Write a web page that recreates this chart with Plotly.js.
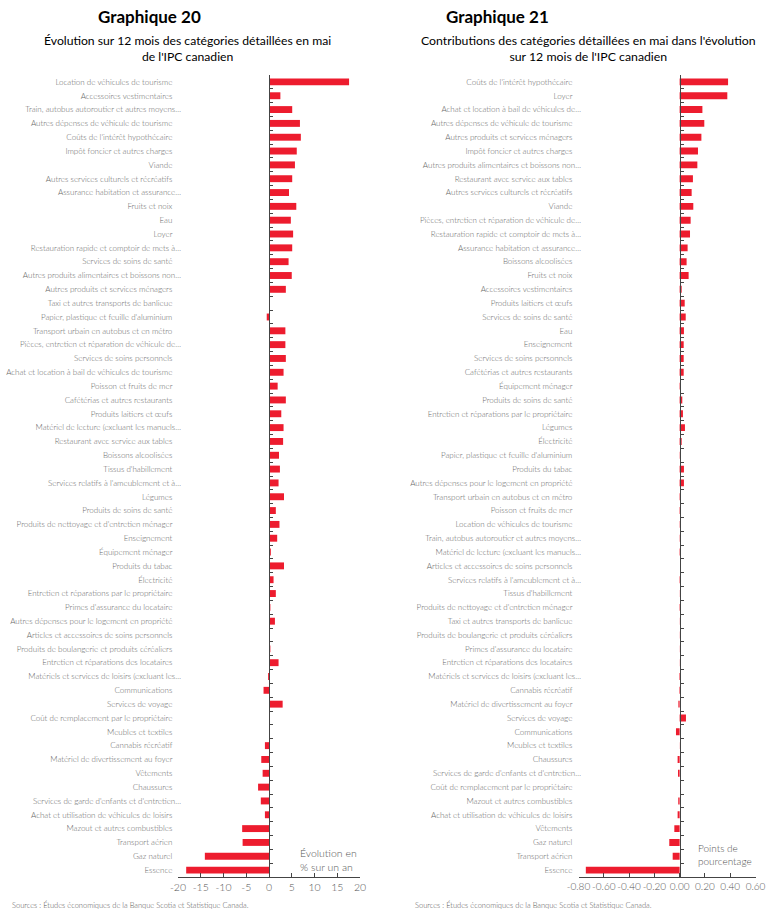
<!DOCTYPE html>
<html>
<head>
<meta charset="utf-8">
<script src="https://cdn.plot.ly/plotly-3.0.1.min.js"></script>
<style>
  html, body { margin: 0; padding: 0; background: #fff; }
  #chart { width: 774px; height: 923px; }
</style>
</head>
<body>
<div id="chart"></div>
<script>
// --- Graphique 20 : évolution sur 12 mois (%)
const cats20 = [
  "Location de véhicules de tourisme", "Accessoires vestimentaires",
  "Train, autobus autoroutier et autres moyens…", "Autres dépenses de véhicule de tourisme",
  "Coûts de l'intérêt hypothécaire", "Impôt foncier et autres charges", "Viande",
  "Autres services culturels et récréatifs", "Assurance habitation et assurance…",
  "Fruits et noix", "Eau", "Loyer", "Restauration rapide et comptoir de mets à…",
  "Services de soins de santé", "Autres produits alimentaires et boissons non…",
  "Autres produits et services ménagers", "Taxi et autres transports de banlieue",
  "Papier, plastique et feuille d'aluminium", "Transport urbain en autobus et en métro",
  "Pièces, entretien et réparation de véhicule de…", "Services de soins personnels",
  "Achat et location à bail de véhicules de tourisme", "Poisson et fruits de mer",
  "Cafétérias et autres restaurants", "Produits laitiers et œufs",
  "Matériel de lecture (excluant les manuels…", "Restaurant avec service aux tables",
  "Boissons alcoolisées", "Tissus d'habillement", "Services relatifs à l'ameublement et à…",
  "Légumes", "Produits de soins de santé", "Produits de nettoyage et d'entretien ménager",
  "Enseignement", "Équipement ménager", "Produits du tabac", "Électricité",
  "Entretien et réparations par le propriétaire", "Primes d'assurance du locataire",
  "Autres dépenses pour le logement en propriété", "Articles et accessoires de soins personnels",
  "Produits de boulangerie et produits céréaliers", "Entretien et réparations des locataires",
  "Matériels et services de loisirs (excluant les…", "Communications", "Services de voyage",
  "Coût de remplacement par le propriétaire", "Meubles et textiles", "Cannabis récréatif",
  "Matériel de divertissement au foyer", "Vêtements", "Chaussures",
  "Services de garde d'enfants et d'entretien…", "Achat et utilisation de véhicules de loisirs",
  "Mazout et autres combustibles", "Transport aérien", "Gaz naturel", "Essence"
];
const vals20 = [
  17.6, 2.5, 5.1, 6.8, 7.0, 6.1, 5.7, 5.1, 4.4, 6.0, 4.8, 5.3, 5.1, 4.3, 5.0, 3.7, 0.2, -0.5,
  3.6, 3.6, 3.7, 3.2, 1.9, 3.7, 2.7, 3.2, 3.1, 2.2, 2.4, 2.1, 3.3, 1.5, 2.3, 1.8, 0.4, 3.3,
  1.0, 1.5, 0.3, 1.3, 0.0, 0.3, 2.1, -0.2, -1.2, 3.0, 0.1, 0.0, -0.9, -1.7, -1.4, -2.4,
  -1.8, -0.9, -5.9, -5.8, -14.1, -18.2
];
const ticks20 = [-20, -15, -10, -5, 0, 5, 10, 15, 20];
const tickText20 = ["-20", "-15", "-10", "-5", "0", "5", "10", "15", "20"];

// --- Graphique 21 : contributions (points de pourcentage)
const cats21 = [
  "Coûts de l'intérêt hypothécaire", "Loyer", "Achat et location à bail de véhicules de…",
  "Autres dépenses de véhicule de tourisme", "Autres produits et services ménagers",
  "Impôt foncier et autres charges", "Autres produits alimentaires et boissons non…",
  "Restaurant avec service aux tables", "Autres services culturels et récréatifs", "Viande",
  "Pièces, entretien et réparation de véhicule de…", "Restauration rapide et comptoir de mets à…",
  "Assurance habitation et assurance…", "Boissons alcoolisées", "Fruits et noix",
  "Accessoires vestimentaires", "Produits laitiers et œufs", "Services de soins de santé",
  "Eau", "Enseignement", "Services de soins personnels", "Cafétérias et autres restaurants",
  "Équipement ménager", "Produits de soins de santé", "Entretien et réparations par le propriétaire",
  "Légumes", "Électricité", "Papier, plastique et feuille d'aluminium", "Produits du tabac",
  "Autres dépenses pour le logement en propriété", "Transport urbain en autobus et en métro",
  "Poisson et fruits de mer", "Location de véhicules de tourisme",
  "Train, autobus autoroutier et autres moyens…", "Matériel de lecture (excluant les manuels…",
  "Articles et accessoires de soins personnels", "Services relatifs à l'ameublement et à…",
  "Tissus d'habillement", "Produits de nettoyage et d'entretien ménager",
  "Taxi et autres transports de banlieue", "Produits de boulangerie et produits céréaliers",
  "Primes d'assurance du locataire", "Entretien et réparations des locataires",
  "Matériels et services de loisirs (excluant les…", "Cannabis récréatif",
  "Matériel de divertissement au foyer", "Services de voyage", "Communications",
  "Meubles et textiles", "Chaussures", "Services de garde d'enfants et d'entretien…",
  "Coût de remplacement par le propriétaire", "Mazout et autres combustibles",
  "Achat et utilisation de véhicules de loisirs", "Vêtements", "Gaz naturel",
  "Transport aérien", "Essence"
];
const vals21 = [
  0.383, 0.377, 0.180, 0.195, 0.172, 0.145, 0.140, 0.105, 0.095, 0.108, 0.087, 0.082,
  0.063, 0.055, 0.071, 0.016, 0.040, 0.048, 0.034, 0.032, 0.032, 0.032, 0.010, 0.021,
  0.026, 0.042, 0.016, -0.002, 0.034, 0.034, 0.010, 0.005, 0.002, 0.002, 0.004, 0.000,
  0.003, 0.001, 0.004, 0.001, 0.001, 0.001, 0.001, -0.004, -0.004, -0.010, 0.050, -0.029,
  -0.001, -0.016, -0.013, 0.000, -0.011, -0.016, -0.042, -0.082, -0.055, -0.742
];
const ticks21 = [-0.8, -0.6, -0.4, -0.2, 0, 0.2, 0.4, 0.6];
const tickText21 = ["-0.80", "-0.60", "-0.40", "-0.20", "0.00", "0.20", "0.40", "0.60"];

const W = 774, H = 923;
const px = x => x / W;
const py = y => 1 - y / H;

const RED = "#ED1C2E";
const FONT = "Lato, 'Open Sans', sans-serif";
const yDomain = [py(877), py(75)];
const left = { domain: [px(178), px(360)], range: [-20, 20], labelPos: px(181) };
const right = { domain: [px(578.5), px(755.5)], range: [-0.8, 0.6], labelPos: px(581) };

// les étiquettes non tronquées finissent un peu avant celles avec « … »
const pad = c => c.endsWith("…") ? c : c + "\u00a0\u00a0\u00a0\u00a0";
const zeroPos = p => p.domain[0] + (0 - p.range[0]) / (p.range[1] - p.range[0]) * (p.domain[1] - p.domain[0]);
const bounds = n => Array.from({ length: n + 1 }, (_, i) => i - 0.5);

const traces = [
  {
    type: "bar", orientation: "h", x: vals20, y: cats20,
    xaxis: "x", yaxis: "y",
    marker: { color: RED }, hoverinfo: "skip"
  },
  {
    type: "bar", orientation: "h", x: vals21, y: cats21,
    xaxis: "x2", yaxis: "y2",
    marker: { color: RED }, hoverinfo: "skip"
  },
  // axes « fantômes » pour l'axe vertical au zéro avec ses petites graduations
  { type: "scatter", x: [], y: [], xaxis: "x", yaxis: "y3", hoverinfo: "skip", showlegend: false },
  { type: "scatter", x: [], y: [], xaxis: "x2", yaxis: "y4", hoverinfo: "skip", showlegend: false }
];

const labelAxis = (p, cats) => ({
  type: "category", domain: yDomain, anchor: "free", position: p.labelPos,
  autorange: "reversed",
  tickvals: cats, ticktext: cats.map(pad),
  ticks: "", showline: false, showgrid: false, zeroline: false,
  tickfont: { family: FONT, size: 8, color: "#666", weight: 300 },
  fixedrange: true
});

const zeroAxis = (p, n, over) => ({
  type: "linear", domain: yDomain, overlaying: over, anchor: "free", position: zeroPos(p),
  range: [n - 0.5, -0.5],
  tickvals: bounds(n), ticks: "inside", ticklen: 3, tickwidth: 1, tickcolor: "#444",
  showticklabels: false, showline: true, linecolor: "#444", linewidth: 1,
  showgrid: false, zeroline: false, fixedrange: true
});

const valueAxis = (p, vals, text, anchorY, size) => ({
  domain: p.domain, range: p.range, anchor: anchorY,
  tickvals: vals, ticktext: text, tickangle: 0,
  ticks: "inside", ticklen: 4, tickcolor: "#444",
  showline: true, linecolor: "#444", linewidth: 1,
  showgrid: false, zeroline: false,
  tickfont: { family: FONT, size: size, color: "#555", weight: 300 },
  fixedrange: true
});

const note = (x, y, text, opts = {}) => Object.assign({
  xref: "paper", yref: "paper", x: px(x), y: py(y), text: text, showarrow: false,
  xanchor: "center", yanchor: "middle",
  font: { family: FONT, size: 12, color: "#000" }
}, opts);

const layout = {
  width: W, height: H,
  margin: { l: 0, r: 0, t: 0, b: 0 },
  paper_bgcolor: "#fff", plot_bgcolor: "#fff",
  showlegend: false, bargap: 0.5,
  xaxis: valueAxis(left, ticks20, tickText20, "y", 10.5),
  xaxis2: valueAxis(right, ticks21, tickText21, "y2", 10),
  yaxis: labelAxis(left, cats20),
  yaxis2: labelAxis(right, cats21),
  yaxis3: zeroAxis(left, cats20.length, "y"),
  yaxis4: zeroAxis(right, cats21.length, "y2"),
  annotations: [
    note(149, 16, "<b>Graphique 20</b>", { font: { family: FONT, size: 17, color: "#000" } }),
    note(187, 48, "Évolution sur 12 mois des catégories détaillées en mai<br>de l'IPC canadien",
      { font: { family: FONT, size: 12.2, color: "#000" } }),
    note(497, 16, "<b>Graphique 21</b>", { font: { family: FONT, size: 17, color: "#000" } }),
    note(588, 48, "Contributions des catégories détaillées en mai dans l'évolution<br>sur 12 mois de l'IPC canadien",
      { font: { family: FONT, size: 12.3, color: "#000" } }),
    note(298, 860, "Évolution en<br>% sur un an",
      { xanchor: "left", align: "left", font: { family: FONT, size: 10.5, color: "#555", weight: 300 } }),
    note(696, 854, "Points de<br>pourcentage",
      { xanchor: "left", align: "left", font: { family: FONT, size: 10, color: "#555", weight: 300 } }),
    note(10, 905, "Sources : Études économiques de la Banque Scotia et Statistique Canada.",
      { xanchor: "left", font: { family: FONT, size: 7.5, color: "#555", weight: 300 } }),
    note(413, 905, "Sources : Études économiques de la Banque Scotia et Statistique Canada.",
      { xanchor: "left", font: { family: FONT, size: 7.5, color: "#555", weight: 300 } })
  ]
};

Plotly.newPlot("chart", traces, layout, { staticPlot: true, displayModeBar: false });
</script>
</body>
</html>
